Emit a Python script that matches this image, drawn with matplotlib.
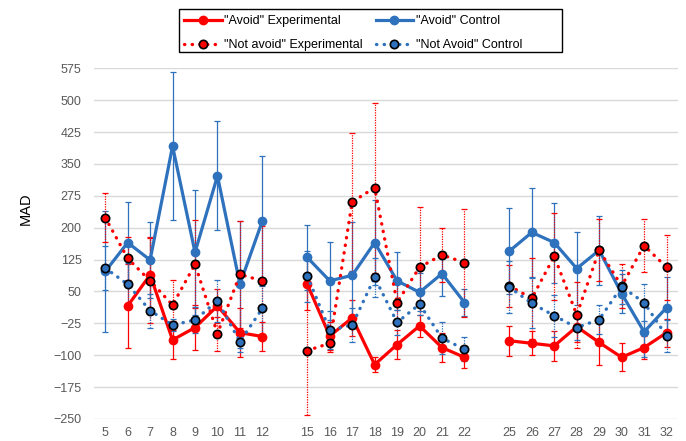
import numpy as np
import matplotlib.pyplot as plt
from matplotlib.patches import Rectangle

plt.rcParams['font.family'] = ['Liberation Sans', 'DejaVu Sans']

nan = np.nan
cats = ['5', '6', '7', '8', '9', '10', '11', '12', '',
        '15', '16', '17', '18', '19', '20', '21', '22', '',
        '25', '26', '27', '28', '29', '30', '31', '32']

avoid_exp = [nan, 16, 89, -64, -35, 16, -47, -56, nan,
             67, -55, -12, -122, -75, -31, -82, -105, nan,
             -66, -72, -78, -33, -70, -105, -82, -47]
avoid_exp_err = [nan, 98, 90, 44, 52, 40, 57, 35, nan,
                 61, 33, 42, 17, 34, 26, 35, 26, nan,
                 35, 28, 35, 35, 53, 33, 28, 33]

avoid_ctl = [97, 165, 124, 392, 142, 322, 67, 216, nan,
             130, 75, 88, 165, 75, 48, 92, 24, nan,
             145, 189, 165, 104, 147, 45, -45, 12]
avoid_ctl_err = [143, 96, 90, 175, 147, 128, 149, 153, nan,
                 76, 92, 125, 100, 69, 45, 52, 32, nan,
                 102, 104, 94, 86, 81, 46, 60, 72]

notavoid_exp = [224, 128, 75, 18, 114, -49, 90, 75, nan,
                -89, -72, 261, 294, 24, 107, 136, 118, nan,
                63, 34, 133, -5, 147, 63, 158, 107]
notavoid_exp_err = [57, 50, 100, 59, 104, 40, 125, 130, nan,
                    152, 20, 163, 200, 50, 142, 64, 127, nan,
                    50, 95, 102, 78, 73, 51, 62, 76]

notavoid_ctl = [105, 67, 5, -29, -17, 28, -68, 10, nan,
                86, -41, -29, 83, -23, 20, -60, -86, nan,
                60, 22, -7, -35, -16, 61, 24, -55]
notavoid_ctl_err = [52, 50, 40, 15, 30, 50, 25, 60, nan,
                    60, 45, 41, 45, 30, 25, 38, 28, nan,
                    61, 59, 49, 30, 34, 40, 43, 38]

red = '#FF0000'
blue = '#2E71BC'
x = np.arange(len(cats))

fig = plt.figure(figsize=(6.86, 4.41), dpi=100)
ax = fig.add_axes([0.137, 0.050, 0.851, 0.795])

series = [
    (avoid_exp, avoid_exp_err, red, '-', '"Avoid" Experimental'),
    (avoid_ctl, avoid_ctl_err, blue, '-', '"Avoid" Control'),
    (notavoid_exp, notavoid_exp_err, red, ':', '"Not avoid" Experimental'),
    (notavoid_ctl, notavoid_ctl_err, blue, ':', '"Not Avoid" Control'),
]

handles = []
for vals, errs, col, ls, lab in series:
    eb = ax.errorbar(x, vals, yerr=errs, fmt='none', ecolor=col, elinewidth=0.9,
                     capsize=2.5, capthick=0.9, zorder=2)
    if ls == ':':
        eb[2][0].set_linestyle((0, (1, 1)))
        line, = ax.plot(x, vals, color=col, lw=2.4, linestyle=(0, (0.1, 2.2)),
                        dash_capstyle='round', marker='o', markersize=6,
                        markerfacecolor=col, markeredgecolor='black',
                        markeredgewidth=1.2, label=lab, zorder=3)
    else:
        line, = ax.plot(x, vals, color=col, lw=2.3, marker='o', markersize=6,
                        markeredgecolor=col, label=lab, zorder=3)
    handles.append(line)

ax.set_xlim(-0.5, len(cats) - 0.5)
ax.set_ylim(-250, 575)
ax.set_yticks(np.arange(-250, 576, 75))
ax.set_xticks(x)
ax.set_xticklabels(cats)
ax.grid(axis='y', color='#D9D9D9', lw=1)
ax.set_axisbelow(True)
for s in ax.spines.values():
    s.set_visible(False)
ax.tick_params(axis='both', length=0, labelsize=9, labelcolor='#595959')
ax.tick_params(axis='y', pad=9)
ax.tick_params(axis='x', pad=6)

fig.text(26 / 686, 1 - 209 / 441, 'MAD', rotation=90, ha='center', va='center',
         fontsize=10.5)

order = [handles[0], handles[2], handles[1], handles[3]]
fig.legend(order, [h.get_label() for h in order],
           ncol=2, loc='upper left', bbox_to_anchor=(180 / 686, 1 - 11 / 441),
           fontsize=9, frameon=False,
           handlelength=3, handletextpad=0.2, columnspacing=1.0,
           borderpad=0.35, labelspacing=0.95, borderaxespad=0)
fig.add_artist(Rectangle((179 / 686, 1 - 52 / 441), 383 / 686, 43 / 441,
                         transform=fig.transFigure, fill=False,
                         edgecolor='black', lw=1))

fig.savefig('out.png', dpi=100)
